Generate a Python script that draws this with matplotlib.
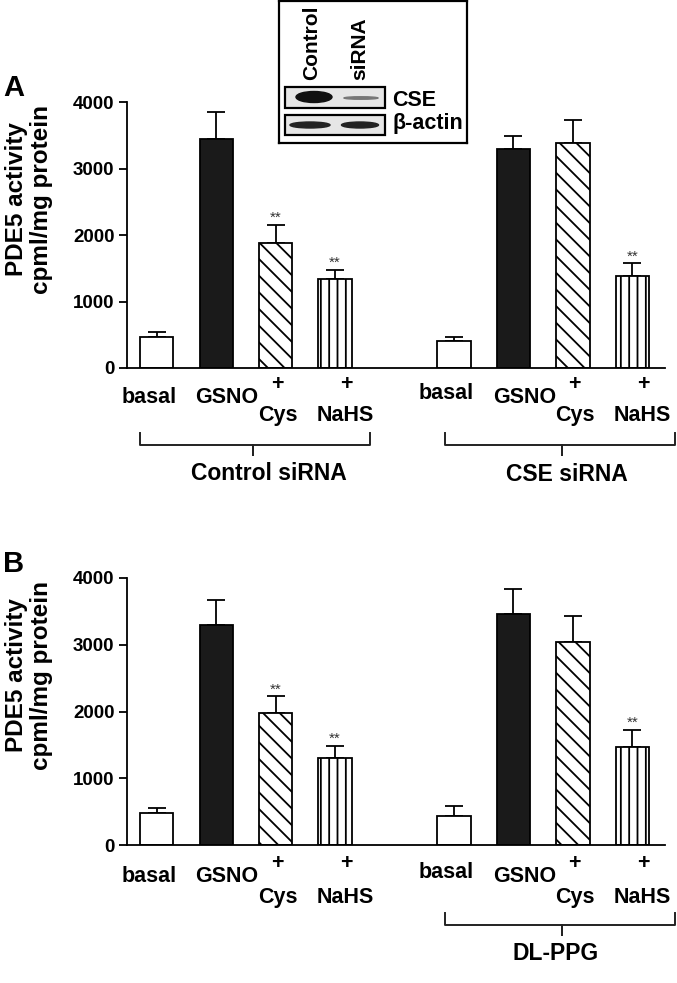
import numpy as np
import matplotlib
matplotlib.use('Agg')
import matplotlib.pyplot as plt
import matplotlib.transforms as mtransforms
from matplotlib.patches import Ellipse, Rectangle

plt.rcParams['font.family'] = ['Liberation Sans', 'DejaVu Sans']
plt.rcParams['font.weight'] = 'bold'
plt.rcParams['hatch.linewidth'] = 1.3

W, H = 677, 983

# data
treatments = ['basal', 'GSNO', '+ Cys', '+ NaHS']
row1 = ['basal', 'GSNO', '+', '+']
row2 = ['', '', 'Cys', 'NaHS']

a_ctrl = [470, 3440, 1875, 1333]
a_ctrl_err = [75, 415, 275, 140]
a_cse = [411, 3289, 3388, 1383]
a_cse_err = [60, 200, 340, 190]

b_ctrl = [485, 3290, 1975, 1300]
b_ctrl_err = [75, 375, 250, 185]
b_ppg = [435, 3465, 3040, 1465]
b_ppg_err = [150, 375, 395, 260]

a_stars = [False, False, True, True, False, False, False, True]
b_stars = [False, False, True, True, False, False, False, True]

group_a = ['Control siRNA', 'CSE siRNA']
group_b = ['', 'DL-PPG']

yticks = [0, 1000, 2000, 3000, 4000]

pos = [0, 1, 2, 3, 5, 6, 7, 8]
fills = ['white', '#1a1a1a', 'white', 'white']
hatches = [None, None, '\\\\', '||']

fig = plt.figure(figsize=(W / 100, H / 100), dpi=100)


def fy(py):
    return 1 - py / H


def panel(ax_top, ax_bot, vals, errs, stars, letter):
    ax = fig.add_axes([127 / W, fy(ax_bot), (665 - 127) / W, (ax_bot - ax_top) / H])
    for i, (p, v, e) in enumerate(zip(pos, vals, errs)):
        k = i % 4
        ax.bar(p, v, width=0.56, color=fills[k], edgecolor='black',
               linewidth=1.3, hatch=hatches[k], zorder=2)
        ax.errorbar(p, v, yerr=[[0], [e]], fmt='none', ecolor='black',
                    elinewidth=1.3, capsize=6.5, capthick=1.3, zorder=1)
        if stars[i]:
            ax.annotate('**', (p, v + e), xytext=(0, 2), textcoords='offset points',
                        ha='center', va='baseline', fontsize=11,
                        fontweight='normal', color='#333333')
    ax.set_xlim(-0.5, 8.55)
    ax.set_ylim(0, 4000)
    ax.set_yticks(yticks)
    ax.set_xticks([])
    for s in ['top', 'right']:
        ax.spines[s].set_visible(False)
    for s in ['left', 'bottom']:
        ax.spines[s].set_linewidth(1.3)
    ax.tick_params(axis='y', labelsize=13.5, width=1.3, length=6, pad=3)
    for t in ax.get_yticklabels():
        t.set_fontweight('bold')
    cy = (ax_top + ax_bot) / 2 - 36
    fig.text(29 / W, fy(cy), 'PDE5 activity\ncpml/mg protein', rotation=90,
             ha='center', va='center', fontsize=17.5, multialignment='center',
             linespacing=1.1)
    fig.text(14 / W, fy(ax_top - 14), letter, ha='center', va='center', fontsize=21)
    return ax


def labels(ax, ax_bot, b1, b2):
    tr = mtransforms.blended_transform_factory(ax.transData, fig.transFigure)
    dx1 = [-8, 11, 2, 11]
    dx2 = [0, 0, 2, 10]
    for i, p in enumerate(pos):
        k = i % 4
        t1 = row1[k]
        x1 = p + dx1[k] / 59.5
        if t1 == '+':
            ax.text(x1, fy(ax_bot + b1 - 13), t1, transform=tr, ha='center',
                    va='baseline', fontsize=15.5)
        else:
            base = ax_bot + b1 - (4 if (i == 4) else 0)
            ax.text(x1, fy(base), t1, transform=tr, ha='center', va='baseline',
                    fontsize=15.5)
        if row2[k]:
            ax.text(p + dx2[k] / 59.5, fy(ax_bot + b2), row2[k], transform=tr,
                    ha='center', va='baseline', fontsize=15.5)


def brace(x0, x1, xt, ytop, ybar, ytip, label, ylab, xlab):
    xs = [x0, x0, xt, xt, xt, x1, x1]
    ys = [ytop, ybar, ybar, ytip, ybar, ybar, ytop]
    fig.add_artist(plt.Line2D([x / W for x in xs], [fy(y) for y in ys],
                              color='#222222', lw=1.4, solid_joinstyle='round'))
    if label:
        fig.text(xlab / W, fy(ylab), label, ha='center', va='center', fontsize=16.5)


axA = panel(102, 368, a_ctrl + a_cse, a_ctrl_err + a_cse_err, a_stars, 'A')
labels(axA, 368, 35, 53)
axB = panel(578, 845, b_ctrl + b_ppg, b_ctrl_err + b_ppg_err, b_stars, 'B')
labels(axB, 845, 37, 58)

brace(140, 370, 253, 433, 445, 455, group_a[0], 473, 269)
brace(445, 675, 562, 433, 445, 455, group_a[1], 474, 567)
brace(445, 675, 562, 913, 925, 935, group_b[1], 953, 556)

# inset western blot
ins = fig.add_axes([279 / W, fy(143), (467 - 279) / W, 142 / H])
ins.set_xlim(0, 188)
ins.set_ylim(143, 1)
ins.set_xticks([])
ins.set_yticks([])
for s in ins.spines.values():
    s.set_linewidth(1.6)
for y0, y1 in [(87, 108), (115, 135)]:
    ins.add_patch(Rectangle((6, y0), 100, y1 - y0, facecolor='#e6e6e6',
                            edgecolor='black', linewidth=1.6))
ins.add_patch(Ellipse((35, 97), 36, 11, color='#111111'))
ins.add_patch(Ellipse((82, 98), 34, 2.5, color='#777777'))
ins.add_patch(Ellipse((31, 125), 40, 6, color='#222222'))
ins.add_patch(Ellipse((81, 125), 37, 6, color='#222222'))
ins.text(113, 100, 'CSE', ha='left', va='center', fontsize=15.5)
ins.text(113, 124, 'β-actin', ha='left', va='center', fontsize=15.5)
ins.text(32.5, 80, 'Control', rotation=90, ha='center', va='bottom', fontsize=15)
ins.text(80.5, 80, 'siRNA', rotation=90, ha='center', va='bottom', fontsize=15)

fig.savefig('out.png', dpi=100)
